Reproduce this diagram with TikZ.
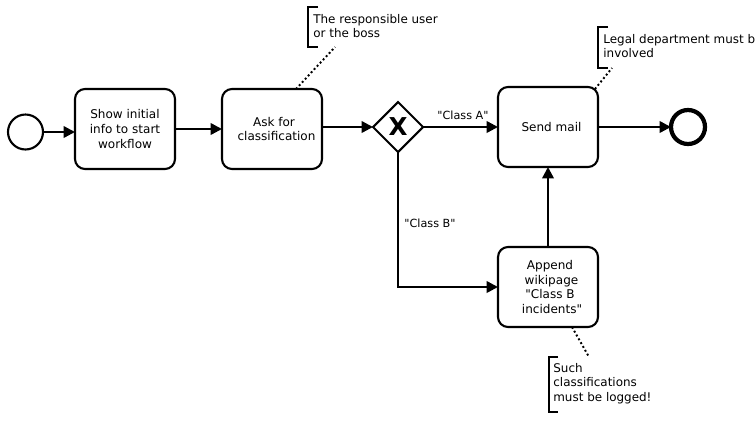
\documentclass[tikz,border=0pt]{standalone}
\usepackage{fontspec}
\setmainfont{DejaVu Sans}[Ligatures=TeXOff]
\usetikzlibrary{arrows.meta,shapes.geometric}
\tikzset{
  flow/.style={line width=1.4pt,-{Triangle[length=0.23cm,width=0.23cm]}},
  assoc/.style={line width=1.1pt,dash pattern=on 1.1pt off 1.4pt},
  bracket/.style={line width=1.3pt},
  task/.style={draw,line width=1.2pt,rounded corners=0.2cm,minimum width=2cm,minimum height=1.6cm,inner sep=0pt,outer sep=0pt,align=center,font=\fontsize{6.85}{8.3}\selectfont},
  startevent/.style={draw,circle,line width=1.2pt,minimum size=0.7cm,inner sep=0pt,outer sep=0pt},
  endevent/.style={draw,circle,line width=2.4pt,minimum size=0.68cm,inner sep=0pt,outer sep=0pt},
  xorgate/.style={draw,diamond,line width=1.2pt,minimum size=1cm,inner sep=0pt,outer sep=0pt,font=\fontsize{14}{14}\selectfont\bfseries},
  note/.style={anchor=west,inner sep=0pt,align=left,font=\fontsize{6.8}{8.2}\selectfont},
  flowlabel/.style={inner sep=0pt,font=\fontsize{6.4}{7}\selectfont}
}
\begin{document}
\begin{tikzpicture}[x=0.02cm,y=-0.02cm]
  \useasboundingbox (0,0) rectangle (756,420);

  % Events and tasks
  \node[startevent] (start) at (25.5,132) {};
  \node[task] (show) at (125,129) {Show initial\\info to start\\workflow};
  \node[task] (ask) at (272,129) {\hspace*{0.08cm}Ask for\\\hspace*{0.18cm}classification};
  \node[xorgate] (gate) at (398,127) {X};
  \node[task] (mail) at (548,127) {\hspace*{0.14cm}Send mail};
  \node[task] (wiki) at (548,287) {\hspace*{0.08cm}Append\\\hspace*{0.14cm}wikipage\\\hspace*{0.08cm}"Class B\\\hspace*{0.16cm}incidents"};
  \node[endevent] (end) at (688,127) {};

  % Sequence flows
  \draw[flow] (start) -- (start -| show.west);
  \draw[flow] (show) -- (ask);
  \draw[flow] (gate -| ask.east) -- (gate);
  \draw[flow] (gate) -- (mail);
  \draw[flow] (mail) -- (end);
  \draw[flow] (gate) |- (wiki);
  \draw[flow] (wiki) -- (mail);

  % Flow labels
  \node[flowlabel] (classA) at (463,115.5) {"Class A"};
  \node[flowlabel] (classB) at (430,223.5) {"Class B"};

  % Annotations
  \node[note] (askNote) at (313,26) {The responsible user\\or the boss};
  \node[note] (mailNote) at (603,46) {Legal department must b\\involved};
  \node[note] (wikiNote) at (553,383.5) {Such\\classifications\\must be logged!};
  \draw[bracket] (318,7) -- (308,7) -- (308,47) -- (318,47);
  \draw[bracket] (608,27) -- (598,27) -- (598,68) -- (608,68);
  \draw[bracket] (558,357) -- (549,357) -- (549,412) -- (558,412);

  % Associations
  \coordinate (askEnd) at (335,47);
  \coordinate (mailEnd) at (612,68);
  \coordinate (wikiEnd) at (589,357);
  \draw[assoc] ([xshift=0.48cm]ask.north) -- (askEnd);
  \draw[assoc] ([xshift=0.94cm,yshift=-0.04cm]mail.north) -- (mailEnd);
  \draw[assoc] ([xshift=0.48cm]wiki.south) -- (wikiEnd);
\end{tikzpicture}
\end{document}
